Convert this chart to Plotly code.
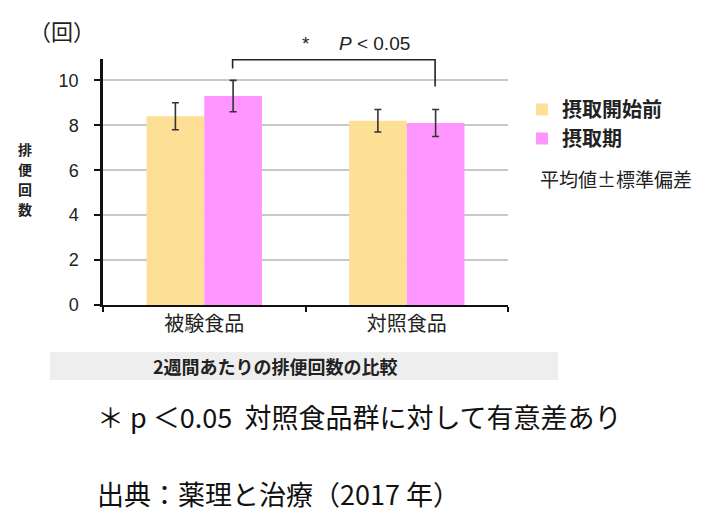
import plotly.graph_objects as go

categories = ["被験食品", "対照食品"]
series_names = ["摂取開始前", "摂取期"]
before_values = [8.4, 8.2]
before_sd = [0.6, 0.5]
during_values = [9.3, 8.1]
during_sd = [0.7, 0.6]
y_ticks = [0, 2, 4, 6, 8, 10]
y_title_chars = ["排", "便", "回", "数"]
colors = ["#FDDF95", "#FF96FF"]

W, H = 727, 523
L, R, T, B = 103, 508, 59, 305
PW, PH = R - L, B - T


def px(x):
    return (x - L) / PW


def py(y):
    return (B - y) / PH


JP = "Noto Sans CJK JP"

fig = go.Figure()
fig.add_trace(go.Bar(
    name=series_names[0], x=categories, y=before_values,
    marker=dict(color=colors[0], line=dict(width=0)),
    error_y=dict(type="data", array=before_sd, color="#333333", thickness=1.6, width=3.5),
))
fig.add_trace(go.Bar(
    name=series_names[1], x=categories, y=during_values,
    marker=dict(color=colors[1], line=dict(width=0)),
    error_y=dict(type="data", array=during_sd, color="#333333", thickness=1.6, width=3.5),
))

fig.update_layout(
    width=W, height=H,
    margin=dict(l=L, r=W - R, t=T, b=H - B, pad=0),
    paper_bgcolor="white", plot_bgcolor="white",
    barmode="group", bargap=0.43, bargroupgap=0,
    font=dict(family=JP, color="#222222"),
    showlegend=True,
    legend=dict(
        x=px(522), y=py(90), xanchor="left", yanchor="top",
        font=dict(family=JP, size=20, color="#222222", weight=700),
        tracegroupgap=0, itemsizing="constant", bgcolor="rgba(0,0,0,0)",
        traceorder="normal", itemwidth=30,
    ),
    xaxis=dict(
        showline=True, linecolor="#111111", linewidth=2,
        ticks="outside", tickson="boundaries", ticklen=5, tickcolor="#111111", tickwidth=2,
        tickfont=dict(family=JP, size=20, color="#222222"),
        showgrid=False,
    ),
    yaxis=dict(
        range=[0, 10.95], tickvals=y_ticks,
        showline=True, linecolor="#111111", linewidth=2.5,
        ticks="outside", ticklen=6, tickcolor="#111111", tickwidth=1.5,
        ticklabelstandoff=12,
        tickfont=dict(family="Liberation Sans, Arial", size=18, color="#222222"),
        showgrid=True, gridcolor="#c8c8c8", gridwidth=1.5,
        zeroline=False,
    ),
)

# significance bracket between the two 摂取期 bars
off = 0.14
fig.add_shape(type="path", xref="x", yref="y",
              path=f"M {0 + off},10.53 L {0 + off},10.92 L {1 + off},10.92 L {1 + off},9.73",
              line=dict(color="#222222", width=1.6))

annotations = [
    dict(text="*　  <i>P</i> < 0.05", x=px(300), y=py(43), xanchor="left", yanchor="middle",
         font=dict(family="Liberation Sans, Arial", size=19, color="#222222")),
    dict(text="（回）", x=px(27), y=py(30), xanchor="left", yanchor="middle",
         font=dict(family=JP, size=22, color="#222222")),
    dict(text="平均値±標準偏差", x=px(538), y=py(178), xanchor="left", yanchor="middle",
         font=dict(family=JP, size=19, color="#222222")),
    dict(text="<b>2週間あたりの排便回数の比較</b>", x=px(275), y=py(366), xanchor="center", yanchor="middle",
         font=dict(family=JP, size=18, color="#222222")),
    dict(text="＊ p ＜0.05  対照食品群に対して有意差あり", x=px(95), y=py(416), xanchor="left", yanchor="middle",
         font=dict(family=JP, size=27, color="#111111")),
    dict(text="出典：薬理と治療（2017 年）", x=px(95), y=py(493), xanchor="left", yanchor="middle",
         font=dict(family=JP, size=27, color="#111111")),
]
for i, ch in enumerate(y_title_chars):
    annotations.append(dict(text=f"<b>{ch}</b>", x=px(25), y=py(149 + 20 * i),
                            xanchor="center", yanchor="middle",
                            font=dict(family=JP, size=14, color="#222222")))
for a in annotations:
    a.update(xref="paper", yref="paper", showarrow=False)
fig.update_layout(annotations=annotations)

fig.add_shape(type="rect", xref="paper", yref="paper", layer="below",
              x0=px(50), x1=px(558), y0=py(380), y1=py(352),
              fillcolor="#eeeeee", line=dict(width=0))

fig.write_html("out.html", config={"displayModeBar": False},
               post_script="document.body.style.margin='0';document.body.style.overflow='hidden';")
